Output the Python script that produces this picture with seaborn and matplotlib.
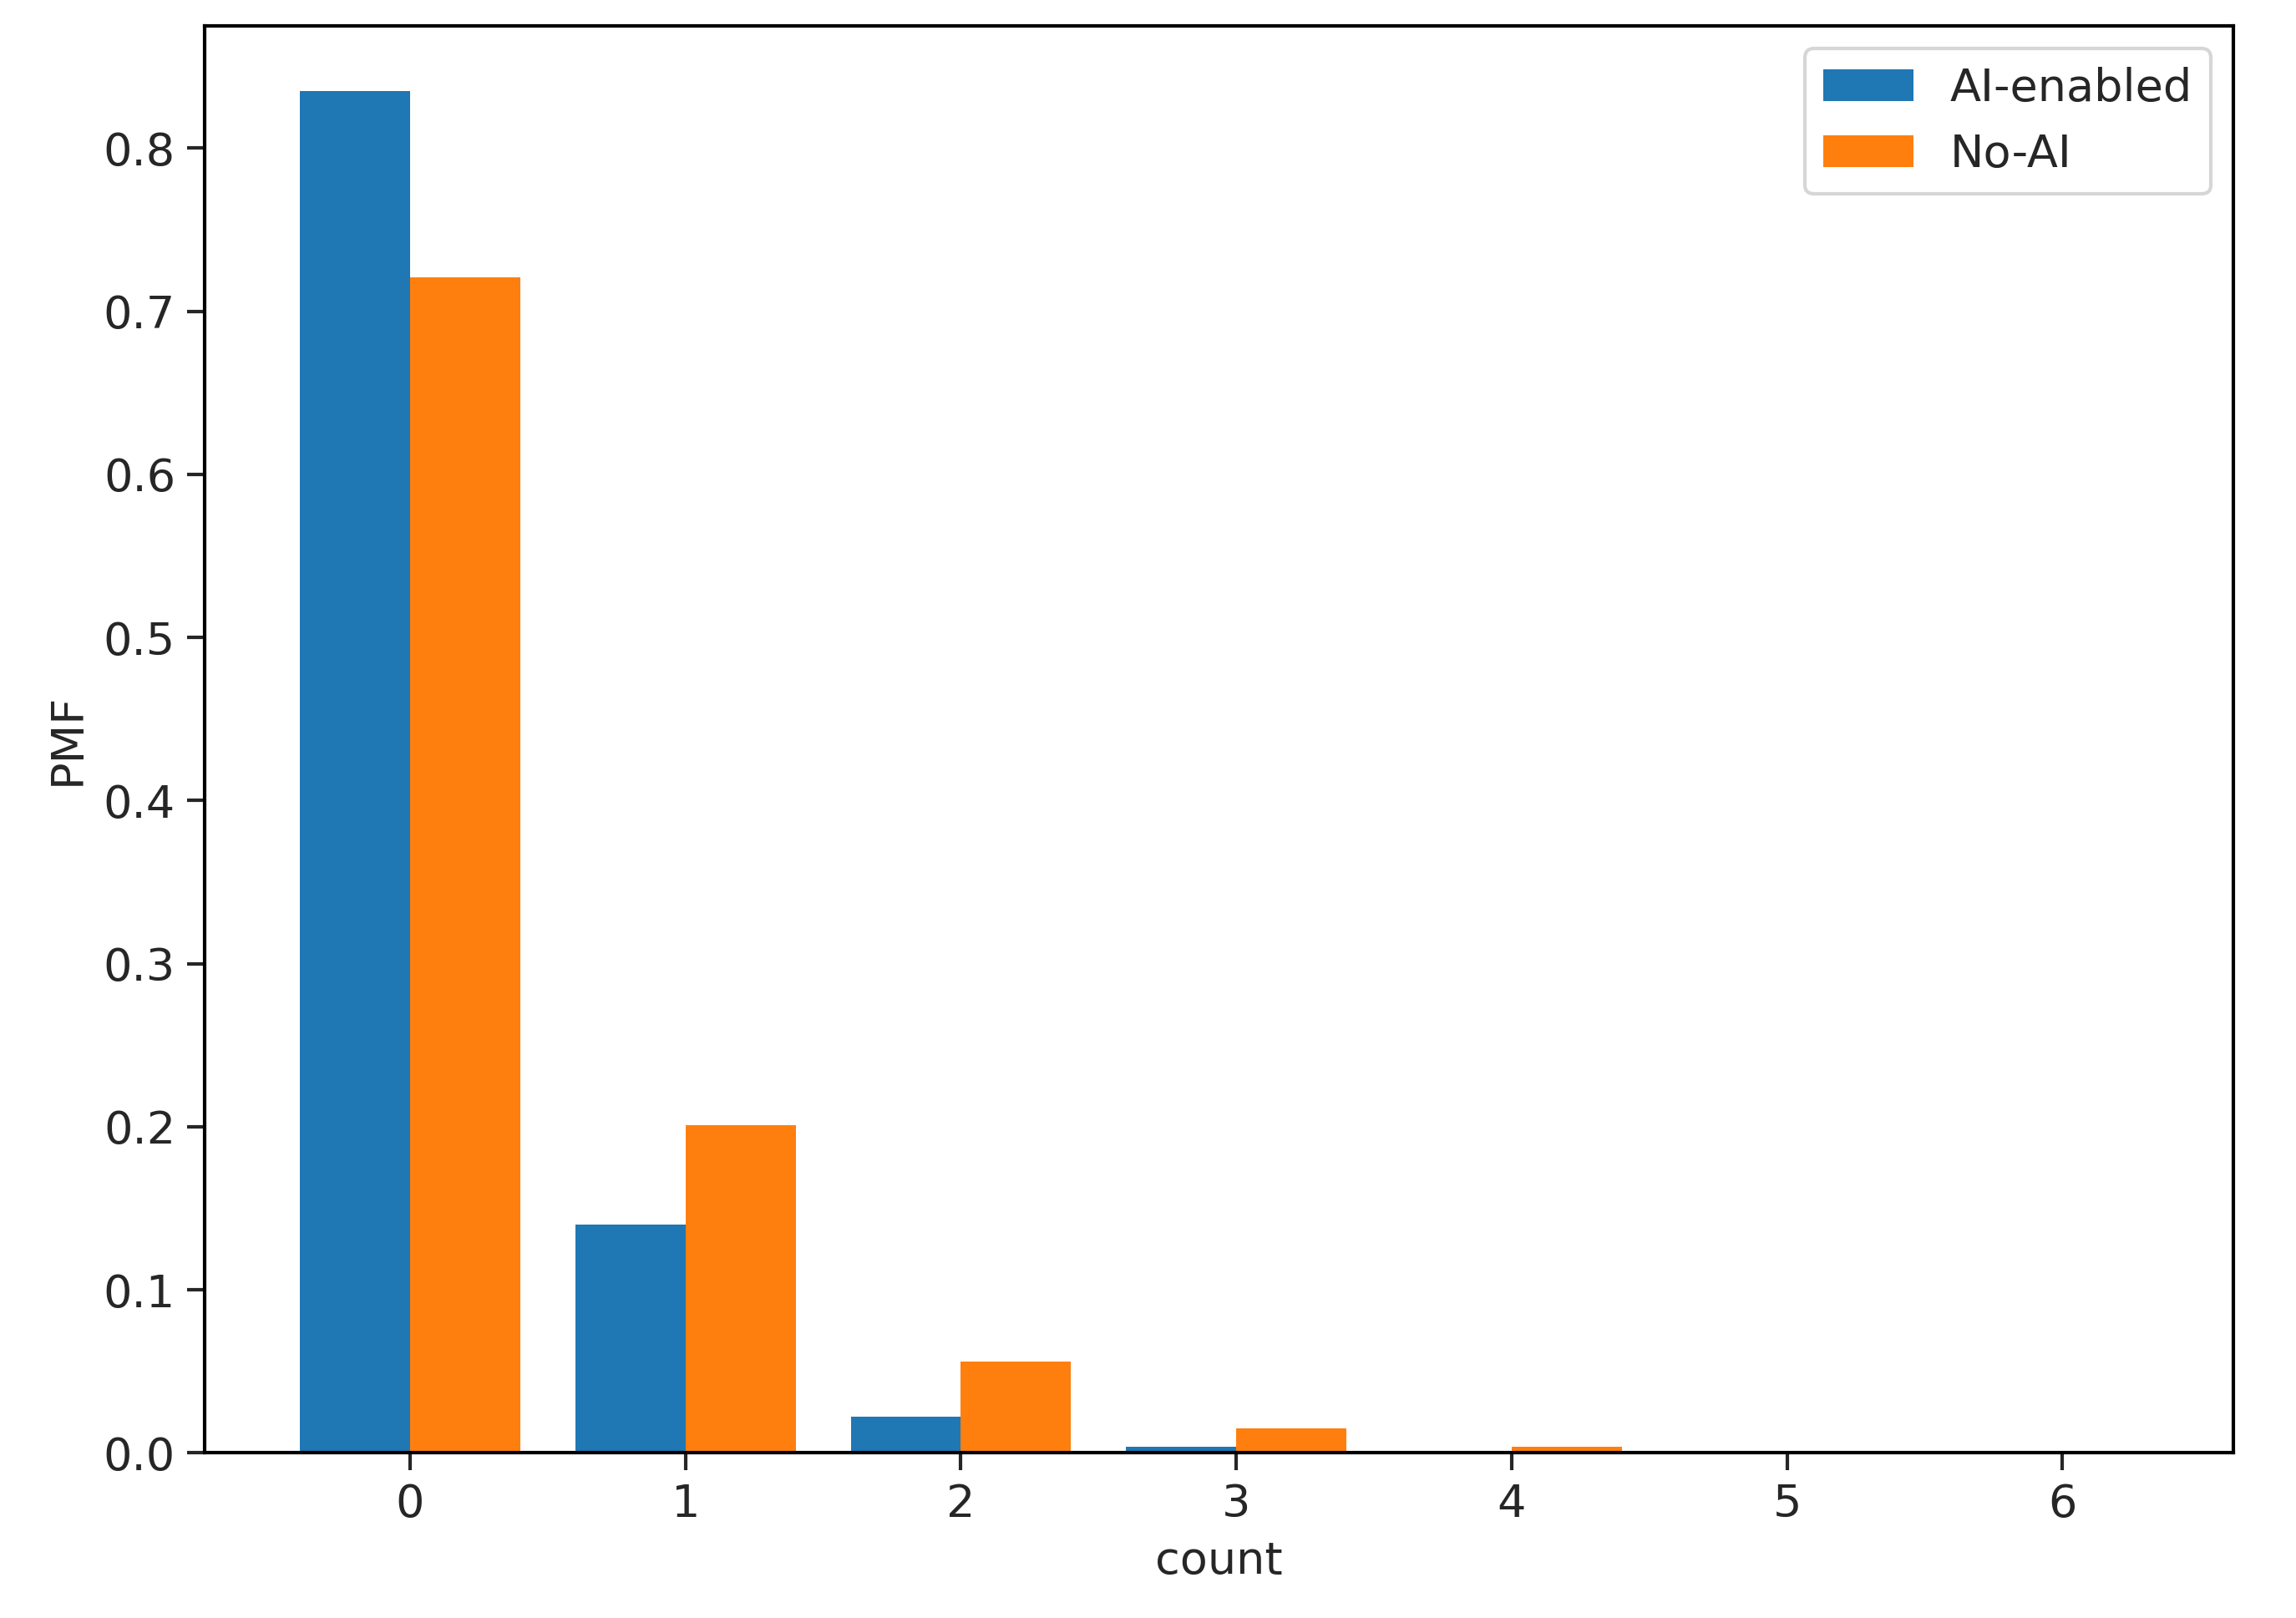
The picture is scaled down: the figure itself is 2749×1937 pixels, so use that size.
import matplotlib
matplotlib.use("Agg")
import matplotlib.pyplot as plt
import seaborn as sns
import pandas as pd

counts = [0, 1, 2, 3, 4, 5, 6]
ai_enabled = [0.835, 0.140, 0.022, 0.004, 0.001, 0.0003, 0.0001]
no_ai = [0.721, 0.201, 0.056, 0.015, 0.004, 0.001, 0.0003]
groups = ["AI-enabled", "No-AI"]

df = pd.DataFrame({
    "count": counts * 2,
    "PMF": ai_enabled + no_ai,
    "group": [groups[0]] * len(counts) + [groups[1]] * len(counts),
})

sns.set_style("ticks")
plt.rcParams['font.family'] = ['DejaVu Sans']
fs = 13
fig = plt.figure(figsize=(2749 / 300, 1937 / 300), dpi=300)
ax = fig.add_axes([0.0893, 0.102, 0.8833, 0.882])
sns.barplot(data=df, x="count", y="PMF", hue="group",
            palette=["#1f77b4", "#ff7f0e"], width=0.8, gap=0,
            saturation=1, ax=ax, edgecolor="none")
ax.set_xlim(-0.745, 6.62)
ax.set_ylim(0, 0.875)
ax.set_yticks([0.0, 0.1, 0.2, 0.3, 0.4, 0.5, 0.6, 0.7, 0.8])
ax.set_yticklabels([f"{v:.1f}" for v in ax.get_yticks()])
ax.tick_params(labelsize=fs, length=5, width=1)
ax.set_xlabel("count", fontsize=fs)
ax.set_ylabel("PMF", fontsize=fs)
for s in ax.spines.values():
    s.set_visible(True)
    s.set_linewidth(1)
    s.set_color("black")
ax.legend(title=None, fontsize=fs, loc="upper right", frameon=True)
fig.savefig("out.png", dpi=300)
